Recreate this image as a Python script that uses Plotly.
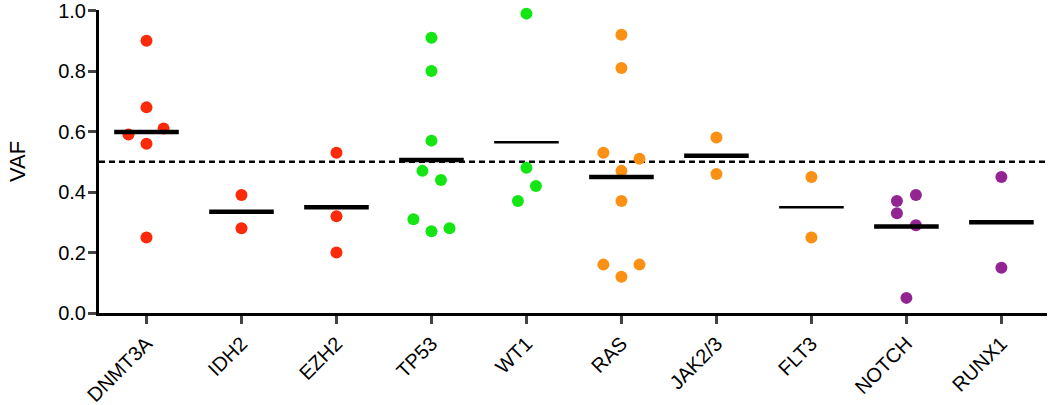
import numpy as np
import plotly.graph_objects as go

# genes on the x axis
genes = ["DNMT3A", "IDH2", "EZH2", "TP53", "WT1", "RAS", "JAK2/3", "FLT3", "NOTCH", "RUNX1"]

# VAF values per gene
vaf_dnmt3a = [0.90, 0.68, 0.59, 0.61, 0.56, 0.25]
vaf_idh2 = [0.39, 0.28]
vaf_ezh2 = [0.53, 0.32, 0.20]
vaf_tp53 = [0.91, 0.80, 0.57, 0.47, 0.44, 0.31, 0.27, 0.28]
vaf_wt1 = [0.99, 0.48, 0.42, 0.37]
vaf_ras = [0.92, 0.81, 0.53, 0.51, 0.47, 0.37, 0.16, 0.16, 0.12]
vaf_jak = [0.58, 0.46]
vaf_flt3 = [0.45, 0.25]
vaf_notch = [0.37, 0.39, 0.33, 0.29, 0.05]
vaf_runx1 = [0.45, 0.15]

# horizontal scatter of the dots (beeswarm), in category units
spread_dnmt3a = [0, 0, -0.19, 0.18, 0, 0]
spread_idh2 = [0, 0]
spread_ezh2 = [0, 0, 0]
spread_tp53 = [0, 0, 0, -0.095, 0.1, -0.19, 0, 0.19]
spread_wt1 = [0, 0, 0.1, -0.09]
spread_ras = [0, 0, -0.19, 0.19, 0, 0, -0.19, 0.19, 0]
spread_jak = [0, 0]
spread_flt3 = [0, 0]
spread_notch = [-0.1, 0.1, -0.1, 0.1, 0]
spread_runx1 = [0, 0]

values = [vaf_dnmt3a, vaf_idh2, vaf_ezh2, vaf_tp53, vaf_wt1,
          vaf_ras, vaf_jak, vaf_flt3, vaf_notch, vaf_runx1]
spreads = [spread_dnmt3a, spread_idh2, spread_ezh2, spread_tp53, spread_wt1,
           spread_ras, spread_jak, spread_flt3, spread_notch, spread_runx1]

RED = "#FA2A0A"
GREEN = "#14E614"
ORANGE = "#FA9014"
PURPLE = "#922592"
colors = [RED, RED, RED, GREEN, GREEN, ORANGE, ORANGE, ORANGE, PURPLE, PURPLE]
thin_mean = {"WT1", "FLT3"}

threshold = 0.5

fig = go.Figure()

# dashed 0.5 line
fig.add_trace(go.Scatter(x=[-0.5, 9.48], y=[threshold, threshold], mode="lines",
                         line=dict(color="black", width=2.5, dash="6px,4px"),
                         hoverinfo="skip", showlegend=False))

for i, (g, vals, sp, col) in enumerate(zip(genes, values, spreads, colors)):
    xs = [i + s for s in sp]
    fig.add_trace(go.Scatter(x=xs, y=vals, mode="markers", name=g,
                             marker=dict(color=col, size=12, line=dict(width=0)),
                             cliponaxis=False, showlegend=False))
    # mean line
    m = float(np.mean(vals))
    w = 2.5 if g in thin_mean else 4.5
    fig.add_trace(go.Scatter(x=[i - 0.34, i + 0.34], y=[m, m], mode="lines",
                             line=dict(color="black", width=w),
                             hoverinfo="skip", showlegend=False))

fig.update_layout(
    width=1050, height=405,
    margin=dict(l=99, r=3, t=10, b=92),
    paper_bgcolor="white", plot_bgcolor="white",
    font=dict(family="Arial, Liberation Sans, sans-serif", color="black"),
)
fig.update_xaxes(
    range=[-0.5, 9.48], tickmode="array", tickvals=list(range(len(genes))), ticktext=genes,
    tickangle=-45, tickfont=dict(size=20), ticks="outside", ticklen=8, tickwidth=2.5,
    showline=True, linewidth=3, linecolor="black", showgrid=False, zeroline=False,
    automargin=False,
)
fig.update_yaxes(
    range=[0, 1.002], tickvals=[0, 0.2, 0.4, 0.6, 0.8, 1.0],
    ticktext=["0.0", "0.2", "0.4", "0.6", "0.8", "1.0"],
    tickfont=dict(size=20), ticks="outside", ticklen=8, tickwidth=2.5,
    ticklabeloverflow="allow", ticklabelstandoff=-2,
    showline=True, linewidth=3, linecolor="black", showgrid=False, zeroline=False,
    title=dict(text="VAF", font=dict(size=22), standoff=27), automargin=False,
)

# drop the default page margin so the figure sits at the window corner
fig.write_html("out.html", config={"displayModeBar": False},
               post_script="document.body.style.margin='0px';")
